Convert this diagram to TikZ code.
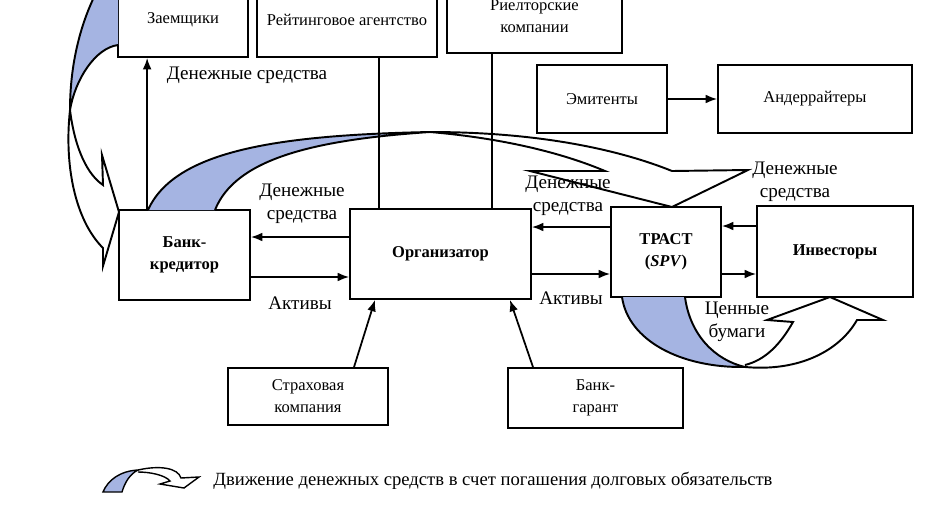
\documentclass[tikz,border=0pt]{standalone}
\usepackage{fontspec}
\setmainfont{Liberation Serif}
\usetikzlibrary{arrows.meta}

\definecolor{ribbonblue}{RGB}{165,180,226}

\tikzset{
  box/.style={draw, line width=1pt, inner sep=0pt, align=center, font=\fontsize{9.4}{12.5}\selectfont},
  boldbox/.style={box, font=\fontsize{9.4}{12.5}\selectfont\bfseries},
  lbl/.style={align=center, inner sep=0pt, font=\fontsize{10.9}{13}\selectfont},
  arr/.style={line width=1pt, -{Latex[length=6.5pt,width=5pt]}},
  link/.style={line width=1pt},
  ribbon/.style={line width=1.1pt, line join=miter}
}

\begin{document}
\begin{tikzpicture}[x=0.02cm, y=-0.02cm]
  \useasboundingbox (0,0) rectangle (934,508);
  \clip (0,0) rectangle (934,508);

  % Participants
  \node[box, minimum width=2.6cm, minimum height=1.5cm] (zaem) at (183,19.5) {Заемщики};
  \node[box, minimum width=3.6cm, minimum height=1.5cm] (reit) at (347,19.5) {Рейтинговое агентство};
  \node[box, minimum width=3.5cm, minimum height=1.46cm] (riel) at (534.5,16.5) {Риелторские\\компании};
  \node[box, minimum width=2.6cm, minimum height=1.36cm] (emit) at (602,99) {Эмитенты};
  \node[box, minimum width=3.88cm, minimum height=1.36cm] (ander) at (815,99) {Андеррайтеры};
  \node[boldbox, minimum width=2.62cm, minimum height=1.8cm] (bank) at (184.5,255) {Банк-\\кредитор};
  \node[boldbox, minimum width=3.62cm, minimum height=1.8cm] (org) at (440.5,254) {Организатор};
  \node[boldbox, minimum width=2.2cm, minimum height=1.8cm] (trust) at (666,252) {ТРАСТ\\(\textit{SPV})};
  \node[boldbox, minimum width=3.12cm, minimum height=1.82cm] (inv) at (835,251.5) {Инвесторы};
  \node[box, minimum width=3.2cm, minimum height=1.14cm] (strah) at (308,396.5) {Страховая\\компания};
  \node[box, minimum width=3.5cm, minimum height=1.2cm] (garant) at (595.5,398) {Банк-\\гарант};

  % Ribbon arrows - repayment cash flow
  % bank -> trust
  \fill[ribbonblue] (148,210) .. controls (175,150) and (280,135) .. (430,132)
    .. controls (310,140) and (235,160) .. (215,210) -- cycle;
  \draw[ribbon] (148,210) .. controls (175,150) and (280,135) .. (430,132)
    .. controls (310,140) and (235,160) .. (215,210);
  \draw[ribbon] (430,132) .. controls (540,132) and (620,150) .. (672,171) -- (748,170) -- (672,207)
    -- (530,171) -- (605,171) .. controls (560,152) and (500,138) .. (430,132);
  % borrowers -> bank
  \fill[ribbonblue] (95,-5) .. controls (78,30) and (70,70) .. (70,110)
    .. controls (75,80) and (95,48) .. (118,45) -- (118,-5) -- cycle;
  \draw[ribbon] (95,-5) .. controls (78,30) and (70,70) .. (70,110)
    .. controls (75,80) and (95,48) .. (118,45);
  \draw[ribbon] (70,110) .. controls (64,165) and (75,220) .. (103,248) -- (103,266) -- (119,212)
    -- (102,155) -- (103,185) .. controls (88,175) and (75,150) .. (70,110);
  % trust -> investors
  \fill[ribbonblue] (622,297) .. controls (628,340) and (680,368) .. (745,367)
    .. controls (715,360) and (690,335) .. (685,297) -- cycle;
  \draw[ribbon] (622,297) .. controls (628,340) and (680,368) .. (745,367)
    .. controls (715,360) and (690,335) .. (685,297);
  \draw[ribbon] (745,367) .. controls (800,372) and (840,350) .. (857,320) -- (883,320) -- (830,297)
    -- (767,320) -- (793,322) .. controls (780,345) and (765,360) .. (745,365);

  % Flows between boxes
  \draw[arr] ([xshift=0.58cm]bank.north west) -- ([xshift=0.58cm]bank.north west |- zaem.south);
  \draw[link] ([xshift=0.6cm]org.north west) -- ([xshift=0.6cm]org.north west |- reit.south);
  \draw[link] ([xshift=2.86cm]org.north west) -- ([xshift=2.86cm]org.north west |- riel.south);
  \draw[arr] (emit.east) -- (ander.west);
  \draw[arr] ([yshift=0.34cm]org.west) -- ([yshift=0.34cm]org.west -| bank.east);
  \draw[arr] ([yshift=-0.46cm]org.west -| bank.east) -- ([yshift=-0.46cm]org.west);
  \draw[arr] ([yshift=0.5cm]trust.west) -- ([yshift=0.5cm]trust.west -| org.east);
  \draw[arr] ([yshift=-0.44cm]trust.west -| org.east) -- ([yshift=-0.44cm]trust.west);
  \draw[arr] ([yshift=0.51cm]inv.west) -- ([yshift=0.51cm]inv.west -| trust.east);
  \draw[arr] ([yshift=-0.45cm]inv.west -| trust.east) -- ([yshift=-0.45cm]inv.west);
  \draw[arr] ([xshift=0.92cm]strah.north) -- ([xshift=-1.31cm]org.south);
  \draw[arr] ([xshift=-1.25cm]garant.north) -- ([xshift=1.39cm]org.south);

  % Labels
  \node[lbl] (cash1) at (247,75) {Денежные средства};
  \node[lbl] (cash2) at (302,204) {Денежные\\средства};
  \node[lbl] (act1) at (300,303) {Активы};
  \node[lbl] (cash3) at (568,196) {Денежные\\средства};
  \node[lbl] (act2) at (571,298) {Активы};
  \node[lbl] (cash4) at (795,182) {Денежные\\средства};
  \node[lbl] (sec) at (737,322) {Ценные\\бумаги};

  % Legend
  \fill[ribbonblue] (103,492) .. controls (108,480) and (120,471) .. (138,470)
    .. controls (130,474) and (125,482) .. (122,492) -- cycle;
  \draw[ribbon, line width=0.8pt] (103,492) .. controls (108,480) and (120,471) .. (138,470)
    .. controls (130,474) and (125,482) .. (122,492) -- cycle;
  \draw[ribbon, line width=0.8pt] (138,470) .. controls (160,465) and (178,468) .. (181,478) -- (199,477) -- (184,488)
    -- (160,484) -- (170,481) .. controls (165,475) and (150,472) .. (138,472);
  \node[lbl, anchor=west, font=\fontsize{10.6}{12}\selectfont] (legend) at (213,481) {Движение денежных средств в счет погашения долговых обязательств};
\end{tikzpicture}
\end{document}
